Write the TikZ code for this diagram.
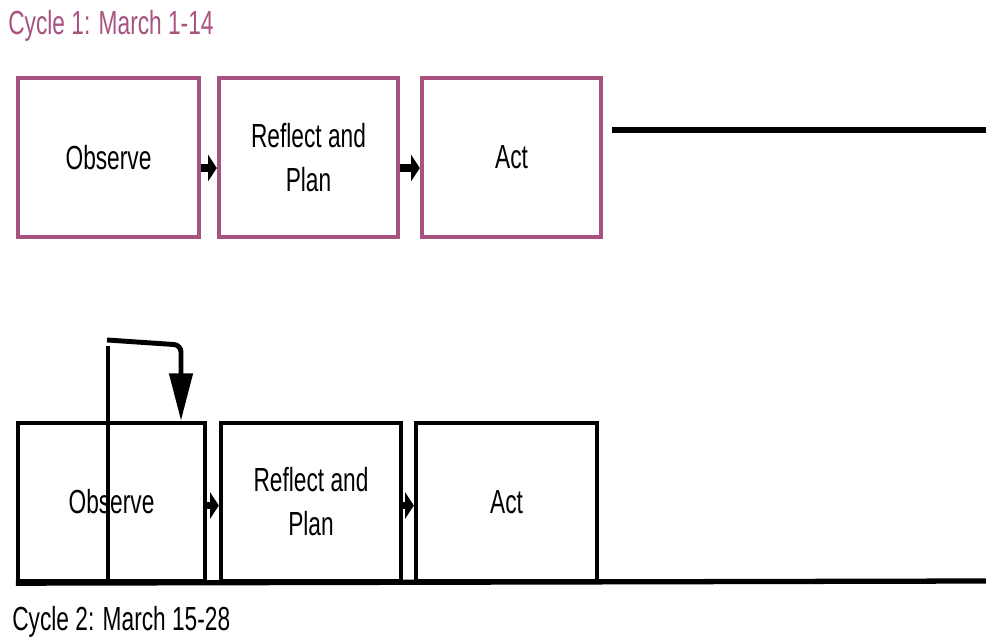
\documentclass[tikz,border=0pt]{standalone}
\usepackage{fontspec}
\setmainfont[FakeStretch=0.68]{Liberation Sans}
\usepackage{tikz}
\usetikzlibrary{arrows.meta,positioning}
\definecolor{cyclepink}{RGB}{168,82,128}
\tikzstyle{flow} = [line width=4.5pt,-{Triangle[length=5pt,width=15pt]},black]

\begin{document}
\begin{tikzpicture}[x=0.02cm, y=-0.02cm,
    stage/.style={rectangle, draw=cyclepink, line width=2.5pt, minimum width=3.6cm, minimum height=3.18cm, align=center, font=\fontsize{19}{25}\selectfont},
    stagetwo/.style={stage, draw=black},
    timeline/.style={line width=3pt, black},
    cycletitle/.style={anchor=base west, inner sep=0pt, font=\fontsize{19}{22}\selectfont}]

\useasboundingbox (0,0) rectangle (986,644);

% Cycle 1
\node[cycletitle, text=cyclepink] (title1) at (8,35) {Cycle 1: March 1-14};
\node[stage, minimum width=3.62cm] (observe1) at (108.5,157.5) {Observe};
\node[stage, minimum width=3.58cm] (reflect1) at (308.5,157.5) {Reflect and\\Plan};
\node[stage, minimum width=3.58cm] (act1) at (511.5,157.5) {Act};

\coordinate (start1) at (612,130);
\coordinate (end1) at (986,130);

\draw[flow] ([yshift=-6pt]observe1.east) -- ([yshift=-6pt]reflect1.west);
\draw[flow] ([yshift=-6pt]reflect1.east) -- ([yshift=-6pt]act1.west);
\draw[timeline] (start1) -- (end1);

% Cycle 2
\node[stagetwo, minimum width=3.74cm, minimum height=3.16cm] (observe2) at (111.5,502) {Observe};
\node[stagetwo, minimum width=3.6cm, minimum height=3.16cm] (reflect2) at (311,502) {Reflect and\\Plan};
\node[stagetwo, minimum width=3.62cm, minimum height=3.16cm] (act2) at (506.5,502) {Act};
\node[cycletitle] (title2) at (12,630) {Cycle 2: March 15-28};

\coordinate (end2) at (986,581);
\coordinate (loopfoot) at (108,581);
\coordinate (looptop) at (108,346);
\coordinate (loopstart) at (107,340);
\coordinate (loopbend) at (181,345);

\draw[flow] ([yshift=-2pt]observe2.east) -- ([yshift=-2pt]reflect2.west);
\draw[flow] ([yshift=-2pt]reflect2.east) -- ([yshift=-2pt]act2.west);
\draw[timeline] (observe2.south west) -- (end2);

% feedback into cycle 2
\draw[line width=1.8pt] (loopfoot) -- (looptop);
\draw[line width=2.8pt, rounded corners=4pt, -{Triangle[length=27pt,width=13pt]}] (loopstart) -- (loopbend) -- (loopbend |- observe2.north);
\end{tikzpicture}
\end{document}
